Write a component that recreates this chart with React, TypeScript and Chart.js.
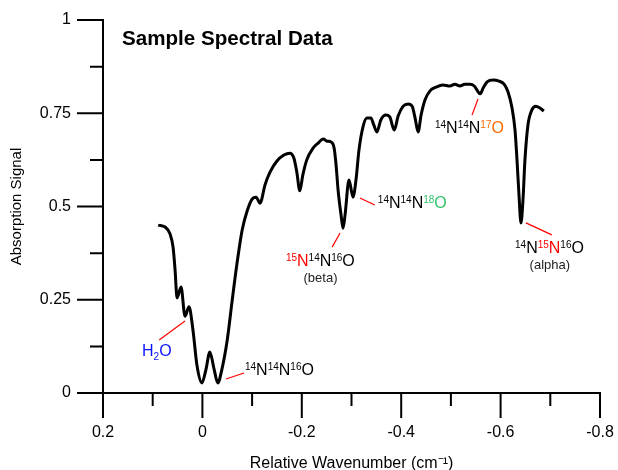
import React, { useEffect, useRef } from 'react';
import { Chart, registerables } from 'chart.js';

Chart.register(...registerables);

// ---- data ----
const wavenumber = [
  0.089, 0.075, 0.065, 0.059, 0.055, 0.051, 0.043, 0.035, 0.027, 0.019, 0.011,
  0.001, -0.007, -0.015, -0.023, -0.031, -0.039, -0.05, -0.06, -0.07, -0.08, -0.09, -0.1, -0.108, -0.116,
  -0.126, -0.136, -0.15, -0.164, -0.176, -0.184, -0.19, -0.196, -0.202, -0.21,
  -0.223, -0.233, -0.243, -0.251, -0.259, -0.265, -0.269, -0.273, -0.279, -0.283,
  -0.287, -0.295, -0.303, -0.309, -0.315, -0.323, -0.331, -0.339, -0.345, -0.351,
  -0.359, -0.369, -0.377, -0.386, -0.394, -0.404, -0.414, -0.422, -0.428, -0.434,
  -0.44, -0.448, -0.458, -0.47, -0.484, -0.498, -0.508, -0.518, -0.528, -0.538,
  -0.547, -0.555, -0.559, -0.565, -0.573, -0.585, -0.597, -0.607, -0.615, -0.623,
  -0.629, -0.633, -0.637, -0.641, -0.645, -0.649, -0.655, -0.663, -0.671, -0.679, -0.687,
];
const absorption = [
  0.45, 0.445, 0.426, 0.391, 0.33, 0.255, 0.284, 0.206, 0.231, 0.169,
  0.075, 0.027, 0.062, 0.11, 0.067, 0.027, 0.062, 0.142, 0.249, 0.351,
  0.437, 0.488, 0.52, 0.525, 0.509, 0.558, 0.592, 0.622, 0.638, 0.643,
  0.63, 0.592, 0.542, 0.584, 0.625, 0.657, 0.67, 0.681, 0.675, 0.673,
  0.657, 0.611, 0.544, 0.477, 0.442, 0.477, 0.571, 0.525, 0.571, 0.651,
  0.713, 0.737, 0.737, 0.718, 0.7, 0.732, 0.745, 0.74, 0.705, 0.743,
  0.769, 0.775, 0.769, 0.737, 0.7, 0.745, 0.786, 0.81, 0.82, 0.826,
  0.823, 0.828, 0.823, 0.828, 0.828, 0.823, 0.807, 0.802, 0.818, 0.834,
  0.839, 0.836, 0.828, 0.807, 0.764, 0.705, 0.625, 0.531, 0.456, 0.517,
  0.625, 0.718, 0.759, 0.769, 0.764, 0.756,
];
const yMajorTicks = [0, 0.25, 0.5, 0.75, 1];
const yMinorTicks = [0.125, 0.375, 0.625, 0.875];
const xMajorTicks = [0.2, 0, -0.2, -0.4, -0.6, -0.8];
const xMinorTicks = [0.1, -0.1, -0.3, -0.5, -0.7];

const chartTitle = 'Sample Spectral Data';
const xTitle = 'Relative Wavenumber (cm\u207B\u00B9)';
const yTitle = 'Absorption Signal';

// ---- annotation content ----
const RED = '#ff0000';
const BLK = '#000000';
const GRN = '#33c36a';
const ORG = '#ff6a00';
const BLU = '#0a14ff';

type Seg = { t: string; c: string; sup?: boolean; sub?: boolean };
type Note = {
  line: [number, number, number, number];
  label: Seg[];
  at: [number, number];
  sub?: string;
  subAt?: [number, number];
};

const notes: Note[] = [
  {
    line: [0.035, 0.193, 0.087, 0.142],
    label: [
      { t: 'H', c: BLU },
      { t: '2', c: BLU, sub: true },
      { t: 'O', c: BLU },
    ],
    at: [0.1215, 0.099],
  },
  {
    line: [-0.0475, 0.0375, -0.0837, 0.0536],
    label: [
      { t: '14', c: BLK, sup: true },
      { t: 'N', c: BLK },
      { t: '14', c: BLK, sup: true },
      { t: 'N', c: BLK },
      { t: '16', c: BLK, sup: true },
      { t: 'O', c: BLK },
    ],
    at: [-0.0857, 0.048],
  },
  {
    line: [-0.277, 0.429, -0.261, 0.391],
    label: [
      { t: '15', c: RED, sup: true },
      { t: 'N', c: RED },
      { t: '14', c: BLK, sup: true },
      { t: 'N', c: BLK },
      { t: '16', c: BLK, sup: true },
      { t: 'O', c: BLK },
    ],
    at: [-0.168, 0.34],
    sub: '(beta)',
    subAt: [-0.2376, 0.298],
  },
  {
    line: [-0.317, 0.523, -0.347, 0.504],
    label: [
      { t: '14', c: BLK, sup: true },
      { t: 'N', c: BLK },
      { t: '14', c: BLK, sup: true },
      { t: 'N', c: BLK },
      { t: '18', c: GRN, sup: true },
      { t: 'O', c: GRN },
    ],
    at: [-0.353, 0.496],
  },
  {
    line: [-0.5545, 0.788, -0.5425, 0.745],
    label: [
      { t: '14', c: BLK, sup: true },
      { t: 'N', c: BLK },
      { t: '14', c: BLK, sup: true },
      { t: 'N', c: BLK },
      { t: '17', c: ORG, sup: true },
      { t: 'O', c: ORG },
    ],
    at: [-0.468, 0.697],
  },
  {
    line: [-0.651, 0.456, -0.703, 0.424],
    label: [
      { t: '14', c: BLK, sup: true },
      { t: 'N', c: BLK },
      { t: '15', c: RED, sup: true },
      { t: 'N', c: RED },
      { t: '16', c: BLK, sup: true },
      { t: 'O', c: BLK },
    ],
    at: [-0.629, 0.375],
    sub: '(alpha)',
    subAt: [-0.699, 0.332],
  },
];

const FAMILY = "'Liberation Sans', Arial, Helvetica, sans-serif";

const fmt = (v: number) => {
  const r = Math.round(v * 1000) / 1000;
  return r === 0 ? '0' : String(r);
};

const decorPlugin = {
  id: 'spectrumDecor',
  afterDraw(chart: any) {
    const { ctx, chartArea: ca } = chart;
    const xs = chart.scales.x;
    const ys = chart.scales.y;
    const ax = ca.left;
    const ay = ca.bottom;
    ctx.save();
    ctx.strokeStyle = '#000';
    ctx.lineWidth = 2;
    ctx.lineCap = 'butt';
    ctx.beginPath();
    ctx.moveTo(ax, ca.top - 1);
    ctx.lineTo(ax, ay);
    ctx.moveTo(ax - 1, ay);
    ctx.lineTo(ca.right + 1, ay);
    yMajorTicks.forEach((v) => {
      const p = ys.getPixelForValue(v);
      ctx.moveTo(ax - 26, p);
      ctx.lineTo(ax + 1, p);
    });
    yMinorTicks.forEach((v) => {
      const p = ys.getPixelForValue(v);
      ctx.moveTo(ax - 13, p);
      ctx.lineTo(ax, p);
    });
    xMajorTicks.forEach((v) => {
      const p = xs.getPixelForValue(v);
      ctx.moveTo(p, ay - 1);
      ctx.lineTo(p, ay + 25);
    });
    xMinorTicks.forEach((v) => {
      const p = xs.getPixelForValue(v);
      ctx.moveTo(p, ay);
      ctx.lineTo(p, ay + 13);
    });
    ctx.stroke();

    // title
    ctx.fillStyle = '#000';
    ctx.font = `bold 20.6px ${FAMILY}`;
    ctx.textBaseline = 'alphabetic';
    ctx.textAlign = 'left';
    ctx.fillText(chartTitle, ca.left + 19, ca.top + 25);

    // annotations
    notes.forEach((n) => {
      ctx.strokeStyle = RED;
      ctx.lineWidth = 1.2;
      ctx.beginPath();
      ctx.moveTo(xs.getPixelForValue(n.line[0]), ys.getPixelForValue(n.line[1]));
      ctx.lineTo(xs.getPixelForValue(n.line[2]), ys.getPixelForValue(n.line[3]));
      ctx.stroke();
      let cx = xs.getPixelForValue(n.at[0]);
      const base = ys.getPixelForValue(n.at[1]);
      n.label.forEach((s) => {
        const small = s.sup || s.sub;
        ctx.font = `${small ? 10 : 16}px ${FAMILY}`;
        ctx.fillStyle = s.c;
        const dy = s.sup ? -5 : s.sub ? 4 : 0;
        ctx.fillText(s.t, cx, base + dy);
        cx += ctx.measureText(s.t).width;
      });
      if (n.sub && n.subAt) {
        ctx.font = `13px ${FAMILY}`;
        ctx.fillStyle = '#222';
        ctx.textAlign = 'center';
        ctx.fillText(n.sub, xs.getPixelForValue(n.subAt[0]), ys.getPixelForValue(n.subAt[1]));
        ctx.textAlign = 'left';
      }
    });
    ctx.restore();
  },
};

export default function App() {
  const ref = useRef<HTMLCanvasElement | null>(null);
  useEffect(() => {
    if (!ref.current) return;
    Chart.defaults.font.family = FAMILY;
    const hiddenTicks = (len: number) => ({
      display: true,
      drawOnChartArea: false,
      drawTicks: true,
      tickLength: len,
      tickColor: 'rgba(0,0,0,0)',
      color: 'rgba(0,0,0,0)',
    });
    const chart = new Chart(ref.current, {
      type: 'line',
      data: {
        datasets: [
          {
            data: wavenumber.map((x, i) => ({ x, y: absorption[i] })),
            borderColor: '#000',
            borderWidth: 3,
            pointRadius: 0,
            cubicInterpolationMode: 'monotone',
            fill: false,
          },
        ],
      },
      options: {
        animation: false,
        responsive: false,
        events: [],
        layout: { padding: { top: 20, right: 18, left: 0, bottom: 0 } },
        plugins: {
          legend: { display: false },
          tooltip: { enabled: false },
          title: { display: false },
        },
        scales: {
          x: {
            type: 'linear',
            min: -0.8,
            max: 0.2,
            reverse: true,
            grid: hiddenTicks(30),
            border: { display: false },
            afterBuildTicks: (s: any) => {
              s.ticks = xMajorTicks.map((v) => ({ value: v }));
            },
            afterFit: (s: any) => {
              s.height = 77;
            },
            ticks: {
              padding: 0,
              autoSkip: false,
              maxRotation: 0,
              color: '#000',
              font: { size: 16, family: FAMILY },
              callback: (v: any) => fmt(Number(v)),
            },
            title: {
              display: true,
              text: xTitle,
              color: '#000',
              font: { size: 16, family: FAMILY },
              padding: { top: 0, bottom: -3 },
            },
          },
          y: {
            type: 'linear',
            min: 0,
            max: 1,
            grid: hiddenTicks(32),
            border: { display: false },
            afterBuildTicks: (s: any) => {
              s.ticks = yMajorTicks.map((v) => ({ value: v }));
            },
            afterFit: (s: any) => {
              s.width = 103;
            },
            ticks: {
              padding: 0,
              autoSkip: false,
              color: '#000',
              font: { size: 16, family: FAMILY },
              callback: (v: any) => fmt(Number(v)),
            },
            title: {
              display: true,
              text: yTitle,
              color: '#000',
              font: { size: 15, family: FAMILY },
              padding: { top: 8, bottom: 0 },
            },
          },
        },
      } as any,
      plugins: [decorPlugin],
    });
    return () => chart.destroy();
  }, []);
  return (
    <div style={{ position: 'absolute', left: 0, top: 0, width: 618, height: 470, background: '#fff' }}>
      <canvas ref={ref} width={618} height={470} />
    </div>
  );
}
